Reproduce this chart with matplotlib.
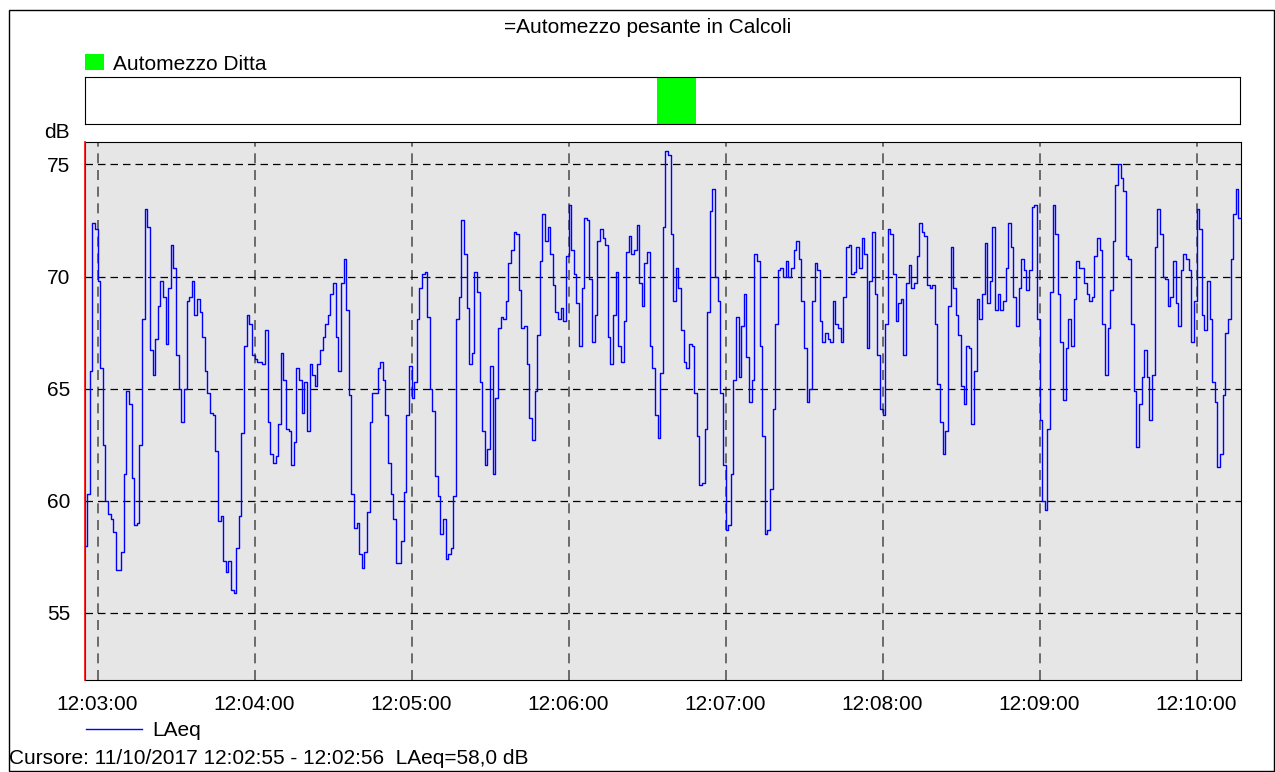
import numpy as np
import matplotlib
matplotlib.use('Agg')
import matplotlib.pyplot as plt
import matplotlib.dates as mdates
from matplotlib.patches import Rectangle
from matplotlib.lines import Line2D

# LAeq, one value per second starting at 12:02:55
laeq = [
    58.0, 60.3, 65.8, 72.4, 72.1, 69.8, 65.9, 62.5, 60.0, 59.4,
    59.2, 58.6, 56.9, 56.9, 57.7, 61.2, 64.9, 64.3, 61.0, 58.9,
    59.0, 62.5, 68.1, 73.0, 72.2, 66.7, 65.6, 67.2, 68.7, 69.8,
    69.1, 67.0, 69.5, 71.4, 70.4, 66.5, 65.0, 63.5, 65.0, 68.9,
    69.1, 69.8,
    68.3, 69.0, 68.4, 67.3, 65.8, 64.8, 63.9, 63.8, 62.2, 59.1,
    59.3, 57.3, 56.8, 57.3, 56.0, 55.9, 57.9, 59.3, 63.0, 66.9,
    68.3, 67.9, 66.5, 66.3, 66.2, 66.2, 66.1, 67.6, 63.5, 62.1,
    61.7, 62.0, 63.4, 66.6, 65.4, 63.2, 63.1, 61.6, 62.6, 65.9,
    65.4, 63.9, 65.3, 63.1, 66.1, 65.6, 65.1, 66.1, 66.7, 67.3,
    67.9, 68.3, 69.2, 69.7, 67.3, 65.8, 69.7, 70.8, 68.5, 64.7,
    60.3, 58.8, 59.0, 57.6, 57.0, 57.7, 59.5, 63.5, 64.8, 64.8,
    65.9, 66.2, 65.4, 63.8, 61.7, 60.3, 59.2, 57.2, 57.2, 58.2,
    60.4, 63.8, 66.0, 64.6, 65.3, 68.1, 69.5, 70.1, 70.2, 68.2,
    65.0, 64.0, 61.1, 60.2, 58.5, 59.2, 57.4, 57.6, 57.9, 60.2,
    68.1, 69.1, 72.5, 71.0, 68.6, 66.1, 66.6, 70.2, 69.3, 65.3,
    63.1, 61.6, 62.3, 66.0, 61.2, 64.6, 67.7, 68.2, 68.1, 68.9,
    70.6, 71.2, 72.0, 71.9, 69.4, 67.7, 67.8, 66.1, 63.7, 62.7,
    64.9, 67.4, 70.7, 72.8, 71.6, 72.2, 71.0, 69.6, 68.4, 68.1,
    68.6, 68.0, 70.9, 73.2, 71.2, 70.1, 68.8, 66.9, 69.5, 72.6,
    72.5, 69.9, 67.1, 68.3, 71.6, 72.1, 71.7, 71.4, 67.3, 66.1,
    68.3,
    70.2, 66.9, 66.2, 68.0, 71.1, 71.8, 71.0, 71.2, 72.3, 69.7,
    68.7, 70.6, 71.1, 66.9, 65.9, 63.8, 62.8, 65.7, 72.2, 75.6,
    75.4, 71.9, 68.9, 70.4, 69.5, 67.6, 66.2, 65.9, 67.0, 66.9,
    64.8, 62.9, 60.7, 60.8, 63.2, 68.4, 72.9, 73.9, 70.0, 68.9,
    64.8, 61.6, 58.7, 58.9, 61.2, 65.4, 68.2, 65.5, 67.8, 69.2,
    66.4, 64.4, 65.4, 71.0, 70.7, 66.9, 62.9, 58.5, 58.7, 60.5,
    64.1, 67.9, 70.3, 70.4, 70.0, 70.7, 70.0, 70.4, 71.2, 71.6,
    70.8, 68.9, 66.8, 64.4, 65.0, 68.9, 70.6, 70.3, 68.0, 67.1,
    67.5,
    67.2, 67.1, 68.9, 67.9, 67.7, 67.1, 69.1, 71.3, 71.4, 70.1,
    70.2, 71.3, 70.4, 71.7, 71.0, 66.8, 69.8, 72.0, 69.2, 66.5,
    64.1, 63.8, 67.9, 72.1, 71.9, 70.1, 68.0, 68.8, 69.0, 66.5,
    69.7, 70.5, 69.5, 69.7, 70.9, 72.4, 72.0, 71.8, 69.6, 69.5,
    69.6, 67.9, 65.2, 63.5, 62.1, 63.1, 68.7, 71.3, 69.5, 68.3,
    67.4, 65.1, 64.3, 66.9, 66.8, 63.4, 65.8, 69.0, 68.1, 69.2,
    71.5, 68.8, 69.8, 72.2, 68.5, 69.2, 68.5, 68.9, 70.4, 72.4,
    71.3, 69.1, 67.8, 69.5, 70.8, 70.3, 69.4, 70.3, 73.1, 73.2,
    68.1,
    63.6, 60.0, 59.6, 63.2, 69.3, 73.2, 71.9, 69.2, 67.1, 64.5,
    66.8, 68.1, 66.9, 69.0, 70.7, 70.4, 70.4, 69.7, 69.2, 68.9,
    69.1, 70.9, 71.7, 71.2, 67.9, 65.6, 67.7, 69.4, 71.6, 74.1,
    75.0, 74.4, 73.8, 70.9, 70.8, 67.9, 64.9, 62.4, 64.3, 65.5,
    66.7, 65.5, 63.6, 65.6, 71.3, 73.0, 71.9, 70.0, 69.9, 68.7,
    69.1, 70.7, 68.8, 67.8, 70.3, 71.0, 70.8, 70.3, 67.1, 68.9,
    73.0, 72.1, 68.3, 67.6, 69.8, 68.1, 65.3, 64.4, 61.5, 62.1,
    64.7, 67.5, 68.1, 70.8, 72.8, 73.9, 72.6,
]

start = np.datetime64('2017-10-11T12:02:55')
end = np.datetime64('2017-10-11T12:10:17')
event_start = np.datetime64('2017-10-11T12:06:34')
event_end = np.datetime64('2017-10-11T12:06:49')
y_ticks = [55, 60, 65, 70, 75]

title = '=Automezzo pesante in Calcoli'
event_label = 'Automezzo Ditta'
series_label = 'LAeq'
cursor_text = 'Cursore: 11/10/2017 12:02:55 - 12:02:56  LAeq=58,0 dB'

plt.rcParams['font.family'] = ['Liberation Sans', 'DejaVu Sans']
plt.rcParams['font.size'] = 15

W, H = 1275, 772
def rect(x0, y0, x1, y1):
    return [x0 / W, 1 - y1 / H, (x1 - x0) / W, (y1 - y0) / H]

fig = plt.figure(figsize=(W / 100, H / 100), dpi=100)

# outer frame
fig.add_artist(Rectangle((9 / W, 1 - 771 / H), 1265 / W, 761 / H, transform=fig.transFigure,
                         fill=False, edgecolor='black', lw=1))

fig.text(648 / W, 1 - 27.5 / H, title, ha='center', va='center')

# event strip
fig.add_artist(Rectangle((85 / W, 1 - 70 / H), 19 / W, 16 / H, transform=fig.transFigure,
                         facecolor='#00ff00', edgecolor='none'))
fig.text(113 / W, 1 - 64 / H, event_label, ha='left', va='center')

ev = fig.add_axes(rect(84.5, 77, 1240, 124))
ev.axvspan(event_start, event_end, color='#00ff00', lw=0)
ev.set_xlim(start, end)
ev.set_xticks([])
ev.set_yticks([])

# main plot
times = start + np.arange(len(laeq) + 1) * np.timedelta64(1, 's')
vals = laeq + [laeq[-1]]

ax = fig.add_axes(rect(84.5, 142, 1241, 680))
ax.set_facecolor('#e6e6e6')
ax.step(times, vals, where='post', color='#0000ff', lw=1)
ax.axvline(start, color='red', lw=1.2, clip_on=False, zorder=5)
ax.set_xlim(start, end)
ax.set_ylim(52, 76)
ax.set_yticks(y_ticks)
ax.xaxis.set_major_locator(mdates.MinuteLocator())
ax.xaxis.set_major_formatter(mdates.DateFormatter('%H:%M:%S'))
ax.grid(True, axis='y', color='black', linestyle=(0, (6, 4)), lw=0.9)
ax.grid(True, axis='x', color='#555555', linestyle=(0, (6, 4)), lw=1.2)
ax.tick_params(axis='both', length=0, labelsize=15)
ax.tick_params(axis='y', pad=10)
ax.tick_params(axis='x', pad=11)

fig.text(57 / W, 1 - 133 / H, 'dB', ha='center', va='center')

handle = Line2D([], [], color='#0000ff', lw=1)
fig.legend([handle], [series_label], loc='center left', bbox_to_anchor=(78 / W, 1 - 731 / H),
           frameon=False, handlelength=2.65, handletextpad=0.5, borderaxespad=0, fontsize=15)

fig.text(9 / W, 1 - 759 / H, cursor_text, ha='left', va='center')

fig.savefig('out.png', dpi=100)
